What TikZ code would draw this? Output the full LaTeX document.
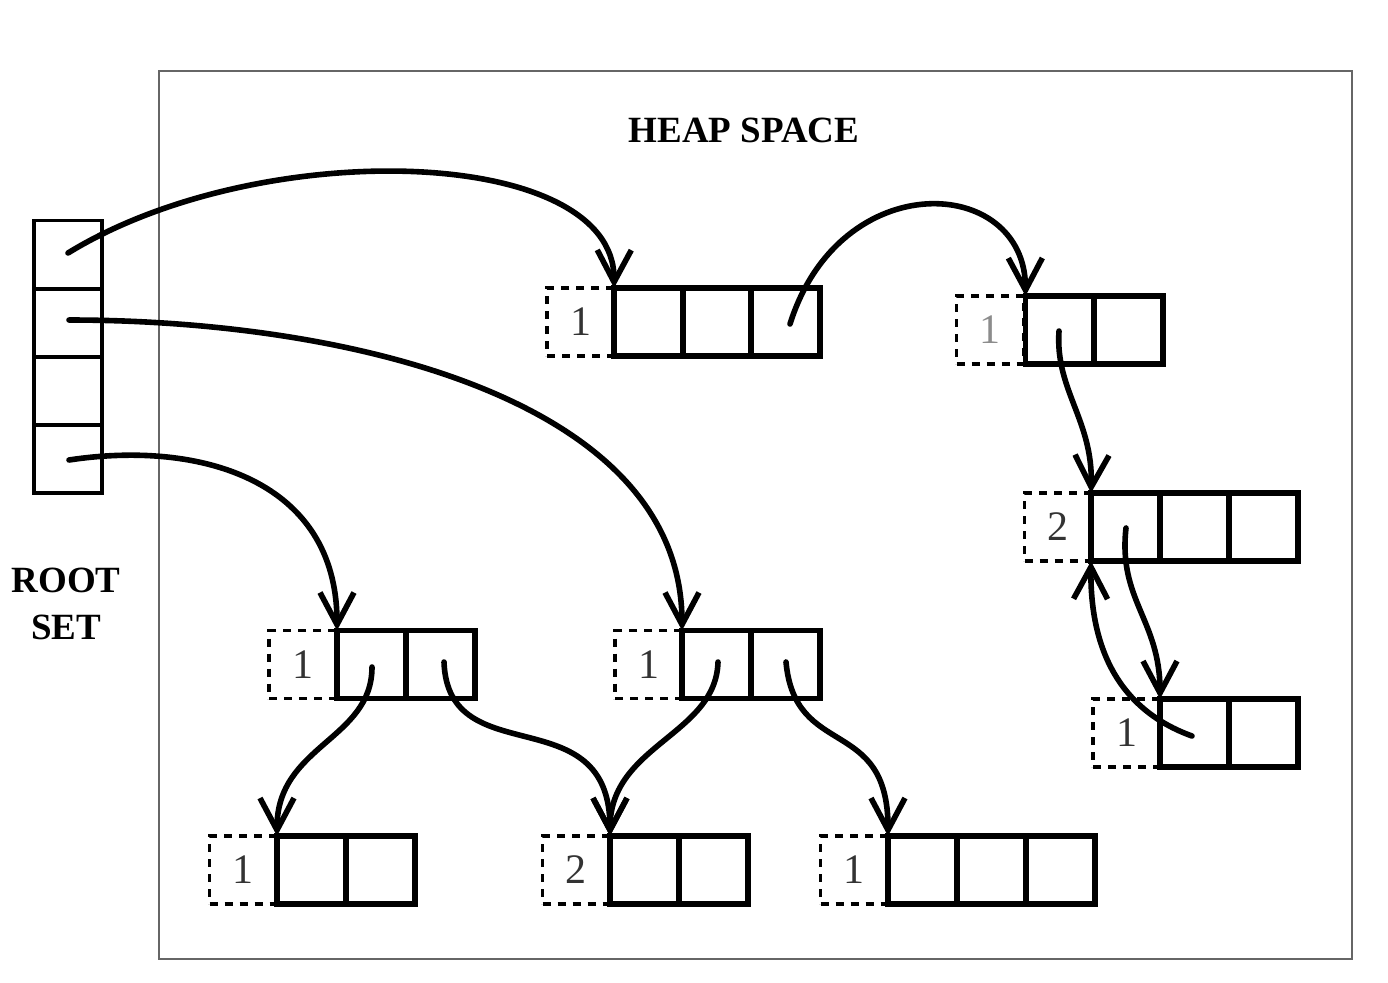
\documentclass[tikz,border=0pt]{standalone}
\usepackage{fontspec}
\setmainfont{Liberation Serif}
\usetikzlibrary{arrows.meta}
\begin{document}
\begin{tikzpicture}[x=0.5pt,y=-0.5pt,
  cell/.style={draw, line width=2.9pt, minimum width=34.5pt, minimum height=34pt, inner sep=0pt, outer sep=0pt},
  cnt/.style={draw, line width=1.6pt, dash pattern=on 4pt off 3.5pt, minimum width=33.5pt, minimum height=34pt, inner sep=0pt, outer sep=0pt, text=black!80, font=\fontsize{21}{24}\selectfont},
  rootcell/.style={draw, line width=1.7pt, minimum width=34pt, minimum height=34pt, inner sep=0pt, outer sep=0pt},
  heap/.style={draw=black!60, line width=0.9pt, minimum width=596.5pt, minimum height=444pt, inner sep=0pt},
  lbl/.style={font=\bfseries\fontsize{18.5}{23.5}\selectfont, align=center},
  ptr/.style={line width=2.8pt, line cap=round, -{Straight Barb[length=16pt,width=17pt,line width=2.8pt]}}
]
\useasboundingbox (0,0) rectangle (1388,982);
% heap
\node[heap] (heap) at (755.5,515) {};
\node[lbl] (heaplbl) at (744,130) {HEAP SPACE};
% root set
\node[rootcell] (R1) at (68,254.5) {};
\node[rootcell] (R2) at (68,323) {};
\node[rootcell] (R3) at (68,391) {};
\node[rootcell] (R4) at (68,459) {};
\node[lbl] (rootlbl) at (66,604) {ROOT\\SET};
% object A
\node[cnt] (A0) at (580.5,322) {1};
\node[cell] (A1) at (648.5,322) {};
\node[cell] (A2) at (717,322) {};
\node[cell] (A3) at (785.5,322) {};
% object B
\node[cnt, text=black!45] (B0) at (990,330) {1};
\node[cell] (B1) at (1060,330) {};
\node[cell] (B2) at (1128.5,330) {};
% object C
\node[cnt] (C0) at (1058,527) {2};
\node[cell] (C1) at (1125.5,527) {};
\node[cell] (C2) at (1194.5,527) {};
\node[cell] (C3) at (1263.5,527) {};
% object D
\node[cnt] (D0) at (1126.5,733) {1};
\node[cell] (D1) at (1194.5,733) {};
\node[cell] (D2) at (1263.5,733) {};
% object E
\node[cnt] (E0) at (302.5,664.5) {1};
\node[cell] (E1) at (371.5,664.5) {};
\node[cell] (E2) at (440.5,664.5) {};
% object F
\node[cnt] (F0) at (648.5,664.5) {1};
\node[cell] (F1) at (716.5,664.5) {};
\node[cell] (F2) at (785.5,664.5) {};
% object G
\node[cnt] (G0) at (243,870) {1};
\node[cell] (G1) at (311.5,870) {};
\node[cell] (G2) at (380.5,870) {};
% object H
\node[cnt] (H0) at (576,870) {2};
\node[cell] (H1) at (644.5,870) {};
\node[cell] (H2) at (713.5,870) {};
% object I
\node[cnt] (I0) at (854,870) {1};
\node[cell] (I1) at (922.5,870) {};
\node[cell] (I2) at (991.5,870) {};
\node[cell] (I3) at (1060.5,870) {};
% pointer origins
\coordinate (s1) at (68,253);
\coordinate (s2) at (69,320);
\coordinate (s3) at (69,460);
\coordinate (sA) at (790,324);
\coordinate (sB) at (1059,331);
\coordinate (sC) at (1126,528);
\coordinate (sD) at (1192,736);
\coordinate (sE1) at (372,667);
\coordinate (sE2) at (444,662);
\coordinate (sF1) at (718,662);
\coordinate (sF2) at (786,662);
% pointers
\draw[ptr] (s1) .. controls (260,135) and (615,145) .. (A1.north west);
\draw[ptr] (s2) .. controls (350,320) and (682,400) .. (F1.north west);
\draw[ptr] (s3) .. controls (200,440) and (337,480) .. (E1.north west);
\draw[ptr] (sA) .. controls (840,165) and (1025,175) .. (B1.north west);
\draw[ptr] (sB) .. controls (1055,390) and (1093,420) .. (C1.north west);
\draw[ptr] (sC) .. controls (1118,600) and (1160,620) .. (D1.north west);
\draw[ptr] (sD) .. controls (1120,710) and (1090,650) .. (C1.south west);
\draw[ptr] (sE1) .. controls (372,740) and (277,745) .. (G1.north west);
\draw[ptr] (sE2) .. controls (448,775) and (610,695) .. (H1.north west);
\draw[ptr] (sF1) .. controls (716,735) and (610,745) .. (H1.north west);
\draw[ptr] (sF2) .. controls (795,760) and (888,715) .. (I1.north west);
\end{tikzpicture}
\end{document}
